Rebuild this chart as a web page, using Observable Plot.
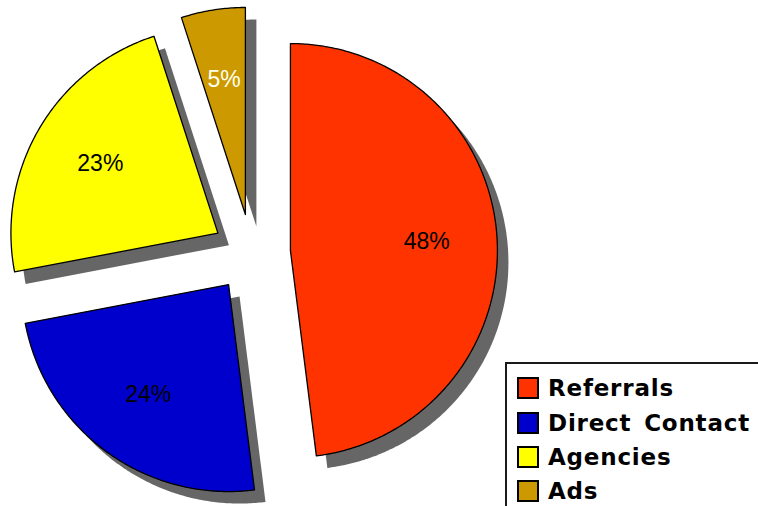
<!DOCTYPE html>
<html><head><meta charset="utf-8">
<script src="https://cdn.jsdelivr.net/npm/d3@7"></script>
<script src="https://cdn.jsdelivr.net/npm/@observablehq/plot@0.6"></script>
<style>
html,body{margin:0;padding:0;background:#fff;overflow:hidden;}
#wrap{position:relative;width:758px;height:506px;overflow:hidden;background:#fff;}
#legend{position:absolute;left:505px;top:362px;width:270px;height:160px;border:2px solid #1a1a1a;box-sizing:border-box;background:#fff;font-family:"DejaVu Sans",sans-serif;font-weight:bold;font-size:23px;letter-spacing:0.8px;word-spacing:4px;color:#000;}
.row{position:absolute;left:10px;height:23px;display:flex;align-items:center;white-space:nowrap;}
.sw{width:18px;height:18px;border:2px solid #000;margin-right:9px;flex:none;}
</style></head><body><div id="wrap"></div>
<script>
const categories = ["Referrals", "Direct Contact", "Agencies", "Ads"];
const shares = [48, 24, 23, 5];
const labels = ["48%", "24%", "23%", "5%"];
const colors = ["#FF3300", "#0000CC", "#FFFF00", "#CC9900"];
const labelColors = ["#000000", "#000000", "#000000", "#FFFFEE"];

const W = 758, H = 506, cx = 251, cy = 252.5, R = 207, explode = 39, labelR = 0.66;
const data = categories.map((name, i) => ({name, share: shares[i], label: labels[i], color: colors[i], labelColor: labelColors[i]}));
const arcs = d3.pie().sort(null).value(d => d.share)(data);

const pts = [], labs = [];
arcs.forEach(a => {
  const mid = (a.startAngle + a.endAngle) / 2;
  const ox = cx + explode * Math.sin(mid), oy = cy - explode * Math.cos(mid);
  const d = a.data;
  pts.push({k: d.name, x: ox, y: oy, color: d.color});
  const n = Math.max(2, Math.ceil((a.endAngle - a.startAngle) / 0.01));
  for (let i = 0; i <= n; i++) {
    const t = a.startAngle + (a.endAngle - a.startAngle) * i / n;
    pts.push({k: d.name, x: ox + R * Math.sin(t), y: oy - R * Math.cos(t), color: d.color});
  }
  labs.push({x: ox + labelR * R * Math.sin(mid), y: oy - labelR * R * Math.cos(mid), text: d.label, fill: d.labelColor});
});

const chart = Plot.plot({
  width: W, height: H, margin: 0,
  x: {domain: [0, W], range: [0, W], axis: null},
  y: {domain: [0, H], range: [0, H], axis: null},
  color: {type: "identity"},
  style: {background: "#fff"},
  marks: [
    Plot.line(pts, {x: "x", y: "y", z: "k", fill: "#666666", stroke: "none", curve: "linear-closed", dx: 11, dy: 12}),
    Plot.line(pts, {x: "x", y: "y", z: "k", fill: "color", stroke: "#000", strokeWidth: 1.3, curve: "linear-closed"}),
    Plot.text(labs, {x: "x", y: "y", text: "text", fill: "fill", fontSize: 23, fontFamily: "Liberation Sans, Arial, sans-serif"})
  ]
});
const wrap = document.getElementById("wrap");
wrap.appendChild(chart);

const legend = document.createElement("div");
legend.id = "legend";
const rowTops = [12, 47, 81, 115];
data.forEach((d, i) => {
  const row = document.createElement("div");
  row.className = "row";
  row.style.top = rowTops[i] + "px";
  const sw = document.createElement("div");
  sw.className = "sw";
  sw.style.background = d.color;
  const tx = document.createElement("span");
  tx.textContent = d.name;
  row.appendChild(sw); row.appendChild(tx);
  legend.appendChild(row);
});
wrap.appendChild(legend);
</script></body></html>
